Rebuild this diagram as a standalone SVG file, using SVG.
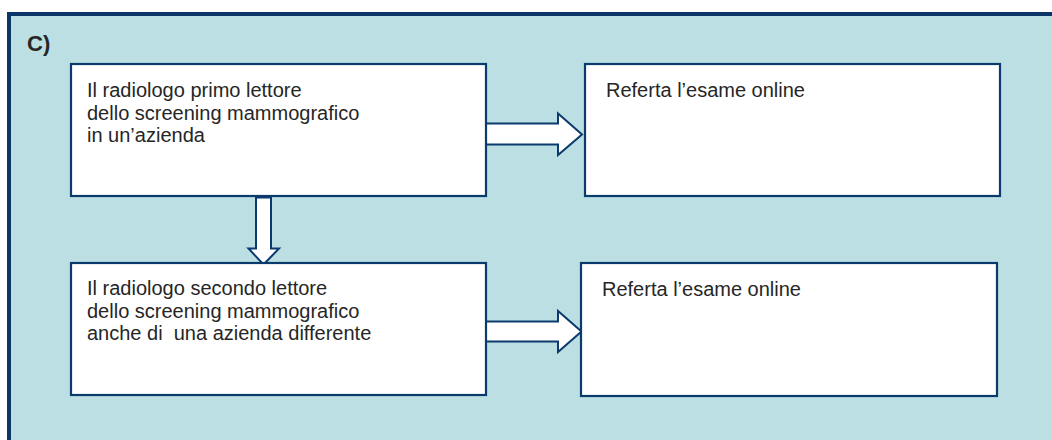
<svg xmlns="http://www.w3.org/2000/svg" width="1052" height="440" viewBox="0 0 1052 440">
  <style>
    .box { fill: #ffffff; stroke: #0b3a6c; stroke-width: 2.2; }
    .arrow { fill: #ffffff; stroke: #0b3a6c; stroke-width: 2; stroke-linejoin: miter; }
    .txt { font-family: "Liberation Sans", Arial, sans-serif; font-size: 20px; fill: #262626; white-space: pre; }
    .title { font-family: "Liberation Sans", Arial, sans-serif; font-size: 22px; font-weight: bold; fill: #262626; }
  </style>
  <rect x="0" y="0" width="1052" height="440" fill="#ffffff"/>
  <g id="frame">
    <rect x="7" y="12" width="1045" height="428" fill="#bbdfe2"/>
    <rect x="7" y="12" width="1045" height="4" fill="#0b3566"/>
    <rect x="7" y="12" width="4" height="428" fill="#0b3566"/>
    <text class="title" x="27" y="51">C)</text>
  </g>
  <g id="connectors">
    <polygon class="arrow" points="486,123.5 558,123.5 558,113.5 582,134.5 558,155 558,144.5 486,144.5"/>
    <polygon class="arrow" points="486,321.5 558,321.5 558,311 581.5,331.5 558,352 558,341.5 486,341.5"/>
    <polygon class="arrow" points="256,197.5 271,197.5 271,248.5 279,248.5 263.5,264.5 248.5,248.5 256,248.5"/>
  </g>
  <g id="node1">
    <rect class="box" x="71" y="64" width="415" height="132"/>
    <text class="txt" x="87" y="97">Il radiologo primo lettore</text>
    <text class="txt" x="87" y="119.5">dello screening mammografico</text>
    <text class="txt" x="87" y="142">in un’azienda</text>
  </g>
  <g id="node2">
    <rect class="box" x="585" y="64" width="415" height="132"/>
    <text class="txt" x="606" y="97">Referta l’esame online</text>
  </g>
  <g id="node3">
    <rect class="box" x="71" y="263" width="415" height="132"/>
    <text class="txt" x="87" y="295">Il radiologo secondo lettore</text>
    <text class="txt" x="87" y="317.5">dello screening mammografico</text>
    <text class="txt" x="87" y="340">anche di  una azienda differente</text>
  </g>
  <g id="node4">
    <rect class="box" x="581" y="263" width="416" height="133"/>
    <text class="txt" x="602" y="296">Referta l’esame online</text>
  </g>
</svg>
